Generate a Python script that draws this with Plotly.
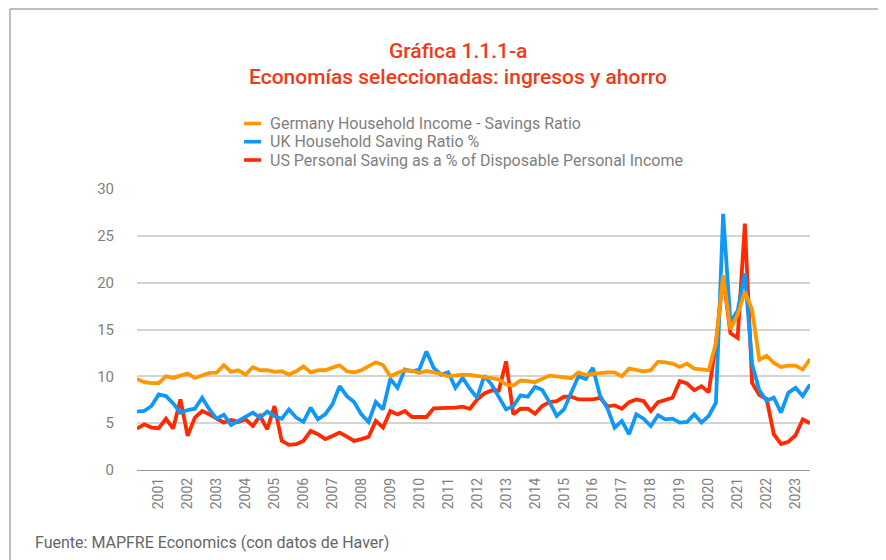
import plotly.graph_objects as go

# Quarterly data, 2000Q1 .. 2023Q2
years = list(range(2001, 2024))
year_labels = [str(y) for y in years]

germany = [9.73, 9.37, 9.27, 9.27, 10.0, 9.83, 10.08, 10.29, 9.83, 10.08, 10.36, 10.4, 11.2, 10.47, 10.65, 10.19,
           10.97, 10.65, 10.65, 10.47, 10.54, 10.19, 10.54, 11.07, 10.43, 10.65, 10.65, 10.93, 11.18, 10.54, 10.43,
           10.65, 11.07, 11.5,
           11.2, 10.0, 10.36, 10.65, 10.6, 10.36, 10.58, 10.47, 10.26, 10.0, 10.12, 10.19, 10.15, 10.0, 9.94, 9.8,
           9.66, 9.13, 9.02, 9.55, 9.48, 9.37, 9.73, 10.08, 10.0, 9.9, 9.8, 10.43, 10.15, 10.26, 10.36, 10.43, 10.43,
           10.0, 10.82, 10.65, 10.54, 10.65, 11.57, 11.5, 11.36, 11.0, 11.36, 10.82, 10.72, 10.65, 13.55, 20.8, 15.0,
           16.6, 19.03, 17.1, 11.78, 12.2, 11.43, 11.0, 11.14, 11.14, 10.72, 11.85]

uk = [6.23, 6.3, 6.83, 8.07, 7.89, 7.11, 6.12, 6.4, 6.54, 7.71, 6.47, 5.48, 5.9, 4.81, 5.24, 5.7, 6.12, 5.59, 6.23,
      5.77, 5.48, 6.47, 5.59, 5.13, 6.65, 5.41, 5.94, 7.0, 8.95, 7.89, 7.25, 5.94, 5.13, 7.25,
      6.47, 9.73, 8.77, 10.72, 10.54, 10.72, 12.66, 10.9, 10.19, 10.43, 8.77, 9.83, 8.67, 7.71, 10.08, 9.13, 7.89,
      6.47, 6.83, 7.96, 7.82, 8.88, 8.53, 7.25, 5.77, 6.47, 8.24, 10.0, 9.73, 10.9, 7.89, 6.6, 4.53,
      5.24, 3.82, 5.94, 5.48, 4.7, 5.84, 5.41, 5.48, 5.06, 5.13, 5.94, 5.06, 5.77, 7.18, 27.34, 15.8, 17.0, 21.0,
      11.3, 8.5, 7.4, 7.71, 6.12, 8.24, 8.77, 7.89, 9.13]

us = [4.42, 4.88, 4.53, 4.46, 5.48, 4.42, 7.53, 3.64, 5.59, 6.3, 5.94, 5.48, 5.06, 5.34, 5.13, 5.41, 4.7, 5.77, 4.35,
      6.83, 3.11, 2.69, 2.76, 3.11, 4.17, 3.82, 3.29, 3.64, 4.0, 3.57, 3.11, 3.29, 3.54, 5.24,
      4.53, 6.3, 5.94, 6.3, 5.66, 5.66, 5.66, 6.58, 6.58, 6.58, 6.65, 6.76, 6.54, 7.53, 8.17, 8.49, 8.49, 11.6,
      5.94, 6.54, 6.54, 6.01, 6.83, 7.25, 7.36, 7.82, 7.82, 7.53, 7.53, 7.53, 7.71, 6.8, 6.9,
      6.54, 7.25, 7.53, 7.36, 6.3, 7.25, 7.46, 7.71, 9.48, 9.23, 8.53, 8.95, 8.3, 13.5, 20.7, 14.6, 14.1, 26.3,
      9.3, 8.0, 7.6, 3.82, 2.76, 3.0, 3.71, 5.41, 4.99]

names = ["Germany Household Income - Savings Ratio",
         "UK Household Saving Ratio %",
         "US Personal Saving as a % of Disposable Personal Income"]
colors = ["#FF9700", "#1198F6", "#FF2A00"]

x = list(range(len(germany)))
tickvals = [4 * (y - 2000) - 1 for y in years]

# page is offset by the 8px body margin
OFF = 8
W, H = 886 - OFF, 560 - OFF
L, R, T, B = 137 - OFF, 76, 189 - OFF, 90
pw, ph = W - L - R, H - T - B


def px(xp):
    return (xp - OFF - L) / pw


def py(yp):
    return (H - B - (yp - OFF)) / ph


fig = go.Figure()
for series, name, col in [(us, names[2], colors[2]), (uk, names[1], colors[1]), (germany, names[0], colors[0])]:
    fig.add_trace(go.Scatter(x=x, y=series, mode="lines", name=name,
                             line=dict(color=col, width=3.8), showlegend=False))

grey = "#7f7f7f"
font = "Roboto, Open Sans, sans-serif"

fig.update_layout(
    width=W, height=H,
    margin=dict(l=L, r=R, t=T, b=B),
    paper_bgcolor="white", plot_bgcolor="white",
    font=dict(family=font, color=grey),
    xaxis=dict(range=[0, len(x) - 1], tickmode="array", tickvals=tickvals, ticktext=year_labels,
               tickangle=-90, showgrid=False, zeroline=False, showline=False,
               tickfont=dict(size=14, color=grey), ticks="", ticklabelstandoff=4),
    yaxis=dict(range=[0, 30], tickvals=[0, 5, 10, 15, 20, 25, 30], showgrid=True,
               gridcolor="#d4d4d4", gridwidth=1.5, zeroline=True, zerolinecolor="#9a9a9a",
               zerolinewidth=1, showline=False, ticks="", tickfont=dict(size=15, color=grey),
               ticklabelstandoff=22),
)

annotations = [
    dict(text="Gráfica 1.1.1-a", x=px(458), y=py(51)),
    dict(text="Economías seleccionadas: ingresos y ahorro", x=px(458), y=py(77)),
]
for a in annotations:
    fig.add_annotation(xref="paper", yref="paper", showarrow=False, xanchor="center", yanchor="middle",
                       font=dict(size=21, color="#F03A1A", family=font, weight=500), **a)

rows = [123.5, 141.7, 160]
for name, col, yr in zip(names, colors, rows):
    fig.add_shape(type="line", xref="paper", yref="paper", x0=px(244), x1=px(261), y0=py(yr), y1=py(yr),
                  line=dict(color=col, width=3.6))
    fig.add_annotation(xref="paper", yref="paper", x=px(268), y=py(yr), text=name, showarrow=False,
                       xanchor="left", yanchor="middle", font=dict(size=16, color=grey, family=font))

fig.add_annotation(xref="paper", yref="paper", x=px(33), y=py(542),
                   text="Fuente: MAPFRE Economics (con datos de Haver)", showarrow=False,
                   xanchor="left", yanchor="middle", font=dict(size=16, color="#666666", family=font))

# frame lines (top and left)
fig.add_shape(type="line", xref="paper", yref="paper", x0=px(10), x1=px(886), y0=py(9), y1=py(9),
              line=dict(color="#a8a8a8", width=1.5))
fig.add_shape(type="line", xref="paper", yref="paper", x0=px(10), x1=px(10), y0=py(9), y1=py(560),
              line=dict(color="#a8a8a8", width=1.5))

fig.write_html("out.html")
